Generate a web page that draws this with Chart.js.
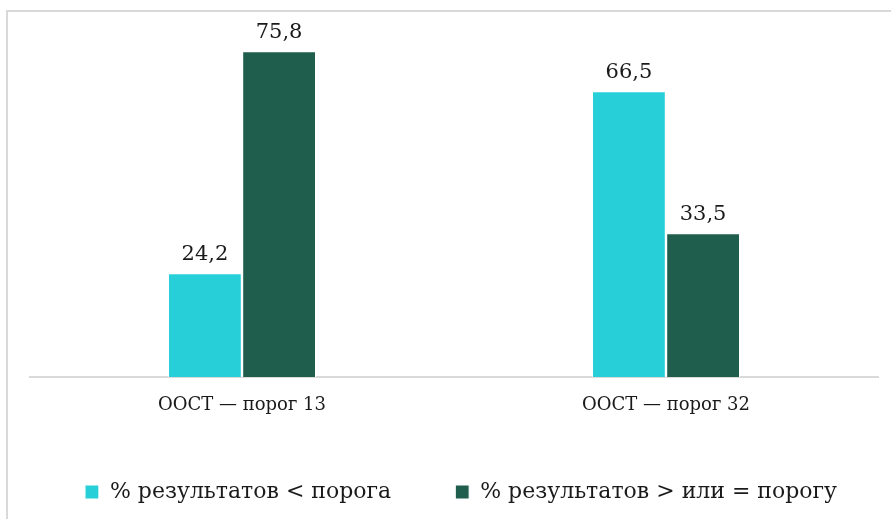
<!DOCTYPE html>
<html><head><meta charset="utf-8">
<script src="https://cdn.jsdelivr.net/npm/chart.js@4"></script>
<style>
html,body{margin:0;padding:0;background:#fff;overflow:hidden;}
#wrap{position:relative;width:891px;height:519px;}
#frame{position:absolute;left:6px;top:10px;width:1000px;height:1000px;border-top:2px solid #d9d9d9;border-left:2px solid #d9d9d9;box-sizing:border-box;}
canvas{position:absolute;left:0;top:0;}
</style></head><body>
<div id="wrap"><div id="frame"></div><canvas id="c" width="891" height="519"></canvas></div>
<script>
const categories = ['ООСТ — порог 13', 'ООСТ — порог 32'];
const seriesNames = ['% результатов < порога', '% результатов > или = порогу'];
const belowThreshold = [24.2, 66.5];
const atOrAboveThreshold = [75.8, 33.5];
const seriesColors = ['#27D0D8', '#1F5E4C'];

const FONT = '"DejaVu Serif", serif';

const valueLabels = {
  id: 'valueLabels',
  afterDatasetsDraw(chart) {
    const ctx = chart.ctx;
    ctx.save();
    ctx.font = '21px ' + FONT;
    ctx.fillStyle = '#1a1a1a';
    ctx.textAlign = 'center';
    ctx.textBaseline = 'alphabetic';
    chart.data.datasets.forEach((ds, i) => {
      chart.getDatasetMeta(i).data.forEach((bar, j) => {
        ctx.fillText(ds.data[j].toFixed(1).replace('.', ','), bar.x, bar.y - 13);
      });
    });
    ctx.restore();
  }
};

// keep both legend items on one row despite the wide item spacing
const LEGEND_SHIFT = 7;
const legendOneRow = {
  id: 'legendOneRow',
  beforeLayout(chart) {
    const lg = chart.legend;
    if (lg && !lg._oneRow) {
      const origFit = lg.fit;
      lg.fit = function () {
        const mw = this.maxWidth;
        this.maxWidth = mw + 600;
        origFit.call(this);
        this.maxWidth = mw;
        this.width = Math.min(this.width, mw);
      };
      const origDraw = lg.draw;
      lg.draw = function () {
        const l = this.left, r = this.right;
        this.left = l - 300 + LEGEND_SHIFT; this.right = r + 300 + LEGEND_SHIFT;
        origDraw.call(this);
        this.left = l; this.right = r;
      };
      lg._oneRow = true;
    }
  }
};

new Chart(document.getElementById('c'), {
  type: 'bar',
  data: {
    labels: categories,
    datasets: [
      { label: seriesNames[0], data: belowThreshold, backgroundColor: seriesColors[0], borderColor: '#ffffff', borderWidth: 1.2, borderSkipped: 'bottom' },
      { label: seriesNames[1], data: atOrAboveThreshold, backgroundColor: seriesColors[1], borderColor: '#ffffff', borderWidth: 1.2, borderSkipped: 'bottom' }
    ]
  },
  options: {
    responsive: false,
    animation: false,
    devicePixelRatio: 1,
    layout: { padding: { left: 30, right: 13, top: 33, bottom: 6 } },
    datasets: { bar: { categoryPercentage: 0.35, barPercentage: 1.0 } },
    scales: {
      x: {
        grid: { display: false, drawTicks: false },
        border: { display: true, color: '#d9d9d9', width: 2 },
        ticks: { color: '#1a1a1a', font: { family: FONT, size: 18 }, padding: 18, maxRotation: 0 },
        afterFit(scale) { scale.height = 40; }
      },
      y: { display: false, min: 0, max: 80 }
    },
    plugins: {
      legend: {
        position: 'bottom',
        labels: {
          color: '#1a1a1a',
          font: { family: FONT, size: 22 },
          boxWidth: 14, boxHeight: 14,
          padding: 64
        }
      },
      tooltip: { enabled: false }
    }
  },
  plugins: [legendOneRow, valueLabels]
});
</script>
</body></html>
